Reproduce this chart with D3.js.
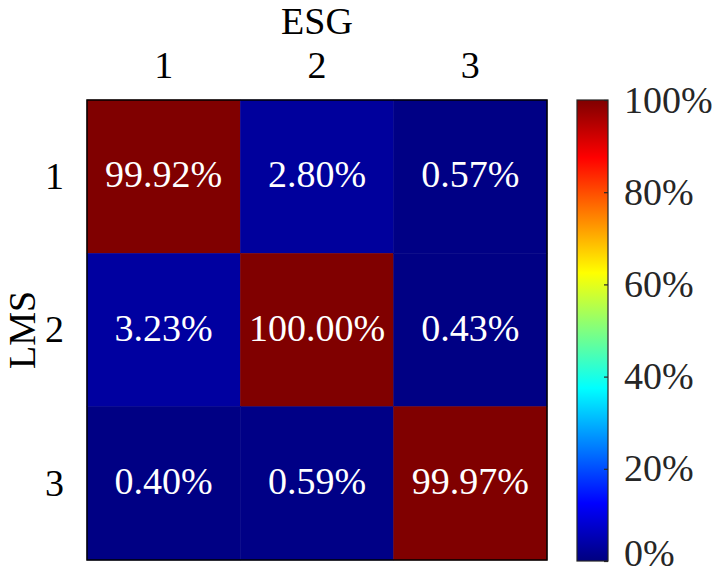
<!DOCTYPE html>
<html>
<head>
<meta charset="utf-8">
<script src="https://cdn.jsdelivr.net/npm/d3@7"></script>
<style>
  body { margin: 0; background: #fff; }
  text { font-family: "Liberation Serif", "DejaVu Serif", serif; }
</style>
</head>
<body>
<div id="canvas"></div>
<script>
var esgLabels = ['1', '2', '3'];
var lmsLabels = ['1', '2', '3'];
// rows = LMS, columns = ESG, in percent
var row1 = [99.92, 2.80, 0.57];
var row2 = [3.23, 100.00, 0.43];
var row3 = [0.40, 0.59, 99.97];
var colorbarTicks = [0, 20, 40, 60, 80, 100];

var rows = [row1, row2, row3];
var cells = [];
rows.forEach(function(r, i){
    r.forEach(function(v, j){
        cells.push({lms: lmsLabels[i], esg: esgLabels[j], value: v});
    });
});

var outerWidth = 715, outerHeight = 574;
var m = {t:100, l:87};
var size = 460;
var fs = '38px';

var svg = d3.select('#canvas')
    .append('svg')
    .attr('width', outerWidth)
    .attr('height', outerHeight);

// matlab jet
function jet(t){
    t = Math.max(0, Math.min(1, t));
    function ch(x){ return Math.max(0, Math.min(1, 1.5 - Math.abs(4*t - x))); }
    var r = ch(3), g = ch(2), b = ch(1);
    return d3.rgb(r*255, g*255, b*255).toString();
}

var scaleX = d3.scaleBand().domain(esgLabels).range([0, size]);
var scaleY = d3.scaleBand().domain(lmsLabels).range([0, size]);
var scaleColor = function(v){ return jet(v / 100); };

var plot = svg.append('g')
    .attr('transform', 'translate(' + m.l + ',' + m.t + ')');

plot.selectAll('.cell')
    .data(cells)
    .enter()
    .append('rect')
    .attr('class', 'cell')
    .attr('x', function(d){ return scaleX(d.esg); })
    .attr('y', function(d){ return scaleY(d.lms); })
    .attr('width', scaleX.bandwidth())
    .attr('height', scaleY.bandwidth())
    .style('fill', function(d){ return scaleColor(d.value); })
    .style('stroke', function(d){ return scaleColor(d.value); })
    .style('stroke-width', 0.5);

plot.selectAll('.val')
    .data(cells)
    .enter()
    .append('text')
    .attr('class', 'val')
    .attr('x', function(d){ return scaleX(d.esg) + scaleX.bandwidth()/2; })
    .attr('y', function(d){ return scaleY(d.lms) + scaleY.bandwidth()/2; })
    .attr('text-anchor', 'middle')
    .attr('dy', '0.28em')
    .style('font-size', fs)
    .style('fill', '#fff')
    .text(function(d){ return d.value.toFixed(2) + '%'; });

plot.append('rect')
    .attr('width', size)
    .attr('height', size)
    .style('fill', 'none')
    .style('stroke', '#000')
    .style('stroke-width', 1.5);

// axes
var axisX = d3.axisTop().scale(scaleX).tickSize(0).tickPadding(22);
var axisY = d3.axisLeft().scale(scaleY).tickSize(0).tickPadding(23);
var gx = plot.append('g').call(axisX);
var gy = plot.append('g').call(axisY);
[gx, gy].forEach(function(g){
    g.select('.domain').remove();
    g.selectAll('text')
        .style('font-family', '"Liberation Serif", serif')
        .style('font-size', fs)
        .style('fill', '#000');
});

svg.append('text')
    .attr('x', m.l + size/2)
    .attr('y', 34)
    .attr('text-anchor', 'middle')
    .style('font-size', fs)
    .text('ESG');

svg.append('text')
    .attr('transform', 'translate(35,' + (m.t + size/2) + ') rotate(-90)')
    .attr('text-anchor', 'middle')
    .style('font-size', fs)
    .text('LMS');

// colorbar
var cb = {x:577, y:100, w:31, h:461};
var scaleCb = d3.scaleLinear().domain([0, 100]).range([cb.h, 0]);
var defs = svg.append('defs');
var grad = defs.append('linearGradient')
    .attr('id', 'jet')
    .attr('x1', 0).attr('y1', 1).attr('x2', 0).attr('y2', 0);
grad.selectAll('stop')
    .data(d3.range(0, 1.0001, 1/64))
    .enter()
    .append('stop')
    .attr('offset', function(d){ return d; })
    .attr('stop-color', function(d){ return jet(d); });

var cbg = svg.append('g')
    .attr('transform', 'translate(' + cb.x + ',' + cb.y + ')');
cbg.append('rect')
    .attr('width', cb.w)
    .attr('height', cb.h)
    .style('fill', 'url(#jet)');

var axisCb = d3.axisRight()
    .scale(scaleCb)
    .tickValues(colorbarTicks)
    .tickSize(-4)
    .tickPadding(16)
    .tickFormat(function(d){ return d + '%'; });
var gcb = cbg.append('g')
    .attr('transform', 'translate(' + cb.w + ',0)')
    .call(axisCb);
gcb.select('.domain').remove();
gcb.selectAll('line').style('stroke', '#262626').style('stroke-width', 1.2);
gcb.selectAll('text')
    .style('font-family', '"Liberation Serif", serif')
    .style('font-size', fs)
    .style('fill', '#262626')
    .attr('dy', function(d){ return d === 0 ? '0.12em' : '0.32em'; });

cbg.append('rect')
    .attr('width', cb.w)
    .attr('height', cb.h)
    .style('fill', 'none')
    .style('stroke', '#262626')
    .style('stroke-width', 1.2);
</script>
</body>
</html>
